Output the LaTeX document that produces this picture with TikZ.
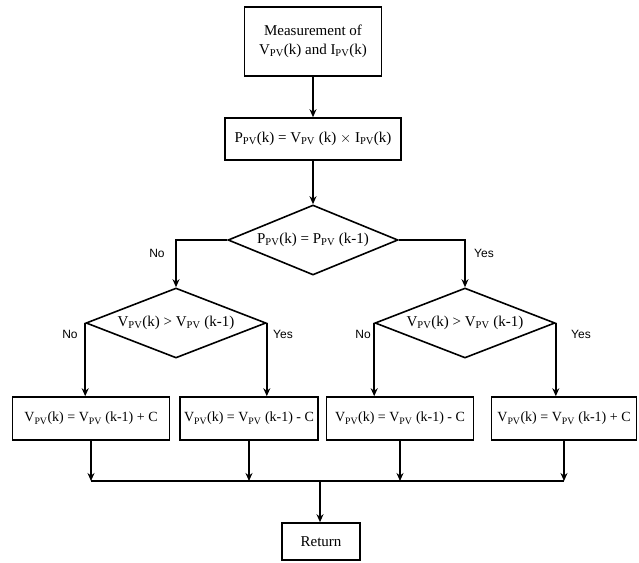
\documentclass[tikz,border=0pt]{standalone}
\usepackage{fontspec}
\setmainfont{Liberation Serif}
\newfontfamily\labelfont{Liberation Sans}
\usetikzlibrary{shapes.geometric,arrows.meta}
\newcommand{\pv}{\textsubscript{PV}}
\tikzset{
    box/.style={draw, line width=1.6pt, inner sep=1pt, align=center, font=\fontsize{15}{19}\selectfont},
    smallbox/.style={box, minimum height=43pt, font=\fontsize{14}{17}\selectfont},
    decision/.style={draw, diamond, aspect=2.6, line width=1.6pt, inner sep=0pt, minimum height=70pt, font=\fontsize{15}{18}\selectfont},
    arr/.style={-{Stealth[length=8pt,width=7pt]}, line width=1.7pt},
    lbl/.style={font=\labelfont\fontsize{12}{14}\selectfont}
}
\begin{document}
\begin{tikzpicture}[x=1pt,y=-1pt]
                    \useasboundingbox (0,0) rectangle (639,562);
                    \node[box, minimum width=137pt, minimum height=69pt] (meas) at (313,41.5) {Measurement of\\V\pv(k) and I\pv(k)};
                    \node[box, minimum width=176pt, minimum height=42pt] (power) at (313,139) {P\pv(k) = V\pv\ (k) $\times$ I\pv(k)};
                    \node[decision, minimum width=170pt] (dp) at (313,240) {P\pv(k) = P\pv\ (k-1)};
                    \node[decision, minimum width=180pt] (dvl) at (176,323) {V\pv(k) > V\pv\ (k-1)};
                    \node[decision, minimum width=180pt] (dvr) at (465,323) {V\pv(k) > V\pv\ (k-1)};
                    % update boxes
                    \node[smallbox, minimum width=157pt] (ba) at (91,418.5) {V\pv(k) = V\pv\ (k-1) + C};
                    \node[smallbox, minimum width=138pt] (bb) at (249,418.5) {V\pv(k) = V\pv\ (k-1) - C};
                    \node[smallbox, minimum width=147pt] (bc) at (400,418.5) {V\pv(k) = V\pv\ (k-1) - C};
                    \node[smallbox, minimum width=145pt] (bd) at (564,418.5) {V\pv(k) = V\pv\ (k-1) + C};
                    \node[box, minimum width=78pt, minimum height=37pt] (ret) at (321,541.5) {Return};
                    \coordinate (join) at (320,481);
                    \draw[arr] (meas) -- (power);
                    \draw[arr] (power) -- (dp);
                    \draw[arr] (dp.west) -| (dvl.north);
                    \draw[arr] (dp.east) -| (dvr.north);
                    \draw[arr] (dvl.west) -- (dvl.west |- ba.north);
                    \draw[arr] (dvl.east) -- (dvl.east |- bb.north);
                    \draw[arr] (dvr.west) -- (dvr.west |- bc.north);
                    \draw[arr] (dvr.east) -- (dvr.east |- bd.north);
                    \draw[arr] (ba.south) -- (ba.south |- join);
                    \draw[arr] (bb.south) -- (bb.south |- join);
                    \draw[arr] (bc.south) -- (bc.south |- join);
                    \draw[arr] (bd.south) -- (bd.south |- join);
                    \draw[line width=1.7pt] (ba.south |- join) -- (bd.south |- join);
                    \draw[arr] (join) -- (join |- ret.north);
                    \node[lbl] (l1) at (157,253) {No};
                    \node[lbl] (l2) at (484,253) {Yes};
                    \node[lbl] (l3) at (70,334) {No};
                    \node[lbl] (l4) at (283,334) {Yes};
                    \node[lbl] (l5) at (363,334) {No};
                    \node[lbl] (l6) at (581,334) {Yes};
                \end{tikzpicture}
\end{document}
